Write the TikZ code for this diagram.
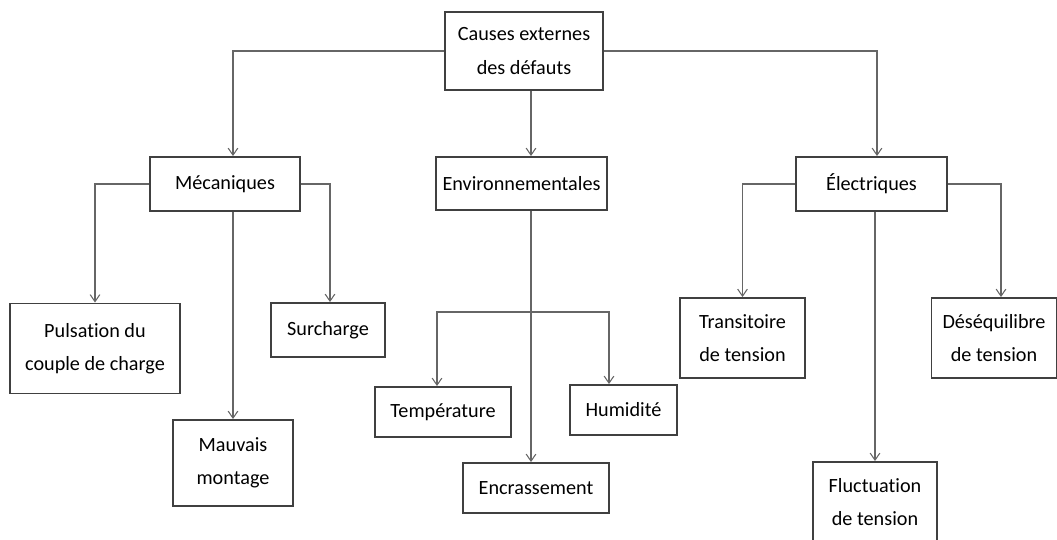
\documentclass[tikz,border=0pt]{standalone}
\usepackage{fontspec}
\setmainfont{Carlito}[Ligatures=NoCommon]
\usetikzlibrary{arrows.meta}
\tikzset{
	cause/.style = {draw=black!75, line width=1.1pt, fill=white, align=center, inner sep=0pt, font=\fontsize{11.5}{19}\selectfont},
	link/.style = {draw=black!60, line width=0.6pt},
	>={Straight Barb[length=4pt,width=5.5pt]}
}
\begin{document}
\begin{tikzpicture}[x=0.02cm, y=-0.02cm]
	\useasboundingbox (0,0) rectangle (1057,539);
	\node[cause, minimum width=3.16cm, minimum height=1.56cm] (causes) at (524,51) {Causes externes\\des défauts};
	\node[cause, minimum width=3.0cm, minimum height=1.08cm] (meca) at (225,184) {Mécaniques};
	\node[cause, minimum width=3.42cm, minimum height=1.06cm] (env) at (521.5,183.5) {Environnementales};
	\node[cause, minimum width=3.02cm, minimum height=1.08cm] (elec) at (871.5,184) {Électriques};
	\node[cause, minimum width=3.4cm, minimum height=1.8cm] (puls) at (95,348.5) {Pulsation du\\couple de charge};
	\node[cause, minimum width=2.28cm, minimum height=1.08cm] (surch) at (328,330) {Surcharge};
	\node[cause, minimum width=2.4cm, minimum height=1.72cm] (mauv) at (233,463) {Mauvais\\montage};
	\node[cause, minimum width=2.72cm, minimum height=1.0cm] (temp) at (443,412) {Température};
	\node[cause, minimum width=2.14cm, minimum height=1.0cm] (humid) at (623.5,410) {Humidité};
	\node[cause, minimum width=2.92cm, minimum height=1.0cm] (encr) at (536,488) {Encrassement};
	\node[cause, minimum width=2.5cm, minimum height=1.6cm] (trans) at (742.5,338) {Transitoire\\de tension};
	\node[cause, minimum width=2.5cm, minimum height=1.6cm] (deseq) at (994,338) {Déséquilibre\\de tension};
	\node[cause, minimum width=2.48cm, minimum height=1.6cm] (fluct) at (875,502) {Fluctuation\\de tension};
	\coordinate (trunk) at (531,0);
	\coordinate (fork) at (531,312);
	\draw[link,->] (causes.west) -| ([xshift=0.16cm]meca.north);
	\draw[link,->] (causes.south -| trunk) -- (env.north -| trunk);
	\draw[link,->] (causes.east) -| ([xshift=0.11cm]elec.north);
	\draw[link,->] (meca.west) -| (puls.north);
	\draw[link,->] (meca.east) -| ([xshift=0.04cm]surch.north);
	\draw[link,->] (meca.south -| mauv.north) -- (mauv.north);
	\draw[link,->] (env.south -| trunk) -- (encr.north -| trunk);
	\draw[link,->] (fork) -| ([xshift=-0.12cm]temp.north);
	\draw[link,->] (fork) -| ([xshift=-0.29cm]humid.north);
	\draw[link,->] (elec.west) -| (trans.north);
	\draw[link,->] (elec.east) -| ([xshift=0.14cm]deseq.north);
	\draw[link,->] (elec.south -| fluct.north) -- (fluct.north);
\end{tikzpicture}
\end{document}
